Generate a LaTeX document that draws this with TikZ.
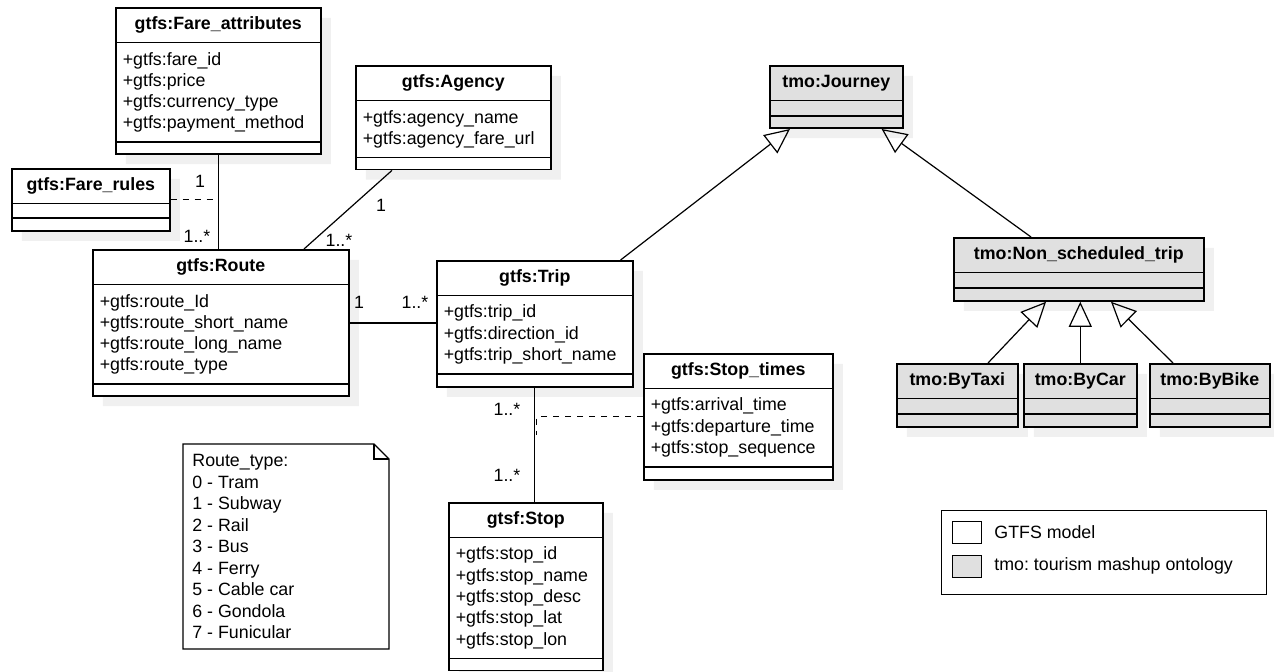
\documentclass[tikz,border=0pt]{standalone}
\usepackage{fontspec}
\setmainfont{Liberation Sans}
\usepackage{tikz}
\usetikzlibrary{arrows.meta,shapes.multipart,shadows,calc}
\frenchspacing

\definecolor{tmogray}{HTML}{E0E0E0}
\definecolor{shadowgray}{HTML}{F0F0F0}

% class compartments
\newcommand{\ctitle}[2]{\parbox[c][16.6pt][c]{#1}{\centering\bfseries #2}}
\newcommand{\cattrs}[3]{\parbox[c][#2][c]{#1}{\raggedright\leftskip=3.5pt #3}}
\newcommand{\cempty}[2]{\parbox[c][#2][c]{#1}{}}

\begin{document}
\begin{tikzpicture}[
                        x=0.5pt,
                        y=-0.5pt,
                        font=\fontsize{8.9pt}{10.65pt}\selectfont,
                        assoc/.style={line width=0.6pt},
                        inherit/.style={line width=0.6pt,-{Triangle[open,length=12.5pt,width=11.5pt]}},
                        mult/.style={inner sep=0pt}
                    ]
                    \tikzstyle{umlclass}=[rectangle split,rectangle split parts=3,draw,fill=white,
                        line width=0.8pt,inner sep=0pt,anchor=north west,
                        drop shadow={shadow xshift=5pt,shadow yshift=-5pt,fill=shadowgray,opacity=1}]
                    \tikzstyle{tmoclass}=[umlclass,fill=tmogray]
                    \tikzstyle{swatch}=[draw,line width=0.6pt,anchor=north west,minimum width=14.5pt,minimum height=11pt,inner sep=0pt]

                    \useasboundingbox (0,0) rectangle (1274,672);

                    % GTFS classes
                    \node[umlclass] (fare) at (115,7) {\ctitle{102.5pt}{gtfs:Fare\_attributes}%
                        \nodepart{two}\cattrs{102.5pt}{49pt}{+gtfs:fare\_id\\+gtfs:price\\+gtfs:currency\_type\\+gtfs:payment\_method}%
                        \nodepart{three}\cempty{102.5pt}{5.2pt}};
                    \node[umlclass] (agency) at (355,65) {\ctitle{97.5pt}{gtfs:Agency}%
                        \nodepart{two}\cattrs{97.5pt}{27.7pt}{+gtfs:agency\_name\\+gtfs:agency\_fare\_url}%
                        \nodepart{three}\cempty{97.5pt}{5.2pt}};
                    \node[umlclass] (rules) at (11,168) {\ctitle{79pt}{gtfs:Fare\_rules}%
                        \nodepart{two}\cempty{79pt}{6.3pt}%
                        \nodepart{three}\cempty{79pt}{5.8pt}};
                    \node[umlclass] (route) at (92,249) {\ctitle{128pt}{gtfs:Route}%
                        \nodepart{two}\cattrs{128pt}{49pt}{+gtfs:route\_Id\\+gtfs:route\_short\_name\\+gtfs:route\_long\_name\\+gtfs:route\_type}%
                        \nodepart{three}\cempty{128pt}{5.2pt}};
                    \node[umlclass] (trip) at (436,260) {\ctitle{98pt}{gtfs:Trip}%
                        \nodepart{two}\cattrs{98pt}{38.3pt}{+gtfs:trip\_id\\+gtfs:direction\_id\\+gtfs:trip\_short\_name}%
                        \nodepart{three}\cempty{98pt}{5.7pt}};
                    \node[umlclass] (stimes) at (643,353) {\ctitle{94.5pt}{gtfs:Stop\_times}%
                        \nodepart{two}\cattrs{94.5pt}{38.3pt}{+gtfs:arrival\_time\\+gtfs:departure\_time\\+gtfs:stop\_sequence}%
                        \nodepart{three}\cempty{94.5pt}{5.7pt}};
                    \node[umlclass] (stop) at (448,502) {\ctitle{77pt}{gtsf:Stop}%
                        \nodepart{two}\cattrs{77pt}{59.6pt}{+gtfs:stop\_id\\+gtfs:stop\_name\\+gtfs:stop\_desc\\+gtfs:stop\_lat\\+gtfs:stop\_lon}%
                        \nodepart{three}\cempty{77pt}{5.2pt}};

                    % tmo classes
                    \node[tmoclass] (journey) at (769,65) {\ctitle{66.5pt}{tmo:Journey}%
                        \nodepart{two}\cempty{66.5pt}{6.8pt}%
                        \nodepart{three}\cempty{66.5pt}{5.4pt}};
                    \node[tmoclass] (nonsched) at (953,237) {\ctitle{125pt}{tmo:Non\_scheduled\_trip}%
                        \nodepart{two}\cempty{125pt}{6.8pt}%
                        \nodepart{three}\cempty{125pt}{5.8pt}};
                    \node[tmoclass] (bytaxi) at (896,363) {\ctitle{60.5pt}{tmo:ByTaxi}%
                        \nodepart{two}\cempty{60.5pt}{6.8pt}%
                        \nodepart{three}\cempty{60.5pt}{5.8pt}};
                    \node[tmoclass] (bycar) at (1023,363) {\ctitle{56.5pt}{tmo:ByCar}%
                        \nodepart{two}\cempty{56.5pt}{6.8pt}%
                        \nodepart{three}\cempty{56.5pt}{5.8pt}};
                    \node[tmoclass] (bybike) at (1149,363) {\ctitle{60pt}{tmo:ByBike}%
                        \nodepart{two}\cempty{60pt}{6.8pt}%
                        \nodepart{three}\cempty{60pt}{5.8pt}};

                    % note
                    \draw[line width=0.6pt,fill=white] (183,444) -- (374,444) -- (389,459) -- (389,649) -- (183,649) -- cycle;
                    \draw[line width=0.6pt] (374,444) -- (374,459) -- (389,459);
                    \node[anchor=north west,inner sep=0pt,align=left,font=\fontsize{8.9pt}{10.75pt}\selectfont] (note) at (192,454)
                        {Route\_type:\\0 - Tram\\1 - Subway\\2 - Rail\\3 - Bus\\4 - Ferry\\5 - Cable car\\6 - Gondola\\7 - Funicular};

                    % associations
                    \draw[assoc] (fare.south) -- (fare.south |- route.north);
                    \draw[assoc,dashed] (rules.east) -- (rules.east -| fare.south);
                    \draw[assoc] ($(agency.south west)+(37,0)$) -- ($(route.north west)+(212,0)$);
                    \draw[assoc] (route.east) -- (route.east -| trip.west);
                    \draw[assoc] (trip.south) -- (trip.south |- stop.north);
                    \draw[assoc,dashed] (stimes.west) -- ($(stimes.west -| trip.south)+(2,0)$) -- ++(0,18);

                    % generalizations
                    \draw[inherit] ($(trip.north east)+(-13,0)$) -- ($(journey.south west)+(21,0)$);
                    \draw[inherit] ($(nonsched.north west)+(78,0)$) -- ($(journey.south east)+(-22,0)$);
                    \draw[inherit] ($(bytaxi.north west)+(92,0)$) -- ($(nonsched.south west)+(93,0)$);
                    \draw[inherit] (bycar.north) -- (bycar.north |- nonsched.south);
                    \draw[inherit] ($(bybike.north west)+(24,0)$) -- ($(nonsched.south west)+(158,0)$);

                    % multiplicities
                    \node[mult] (m1) at (200,181) {1};
                    \node[mult] (m2) at (197,236) {1..*};
                    \node[mult] (m3) at (381,205) {1};
                    \node[mult] (m4) at (339,240) {1..*};
                    \node[mult] (m5) at (359,302) {1};
                    \node[mult] (m6) at (415,302) {1..*};
                    \node[mult] (m7) at (507,409) {1..*};
                    \node[mult] (m8) at (507,475) {1..*};

                    % legend
                    \node[draw,line width=0.6pt,anchor=north west,minimum width=162.5pt,minimum height=42pt,inner sep=0pt] (legend) at (941,510) {};
                    \node[swatch,fill=white] (sw1) at (952,521) {};
                    \node[swatch,fill=tmogray] (sw2) at (952,555) {};
                    \node[anchor=west,inner sep=0pt] (lg1) at (994,532) {GTFS model};
                    \node[anchor=west,inner sep=0pt] (lg2) at (994,566) {tmo: tourism mashup ontology};

                \end{tikzpicture}
\end{document}
